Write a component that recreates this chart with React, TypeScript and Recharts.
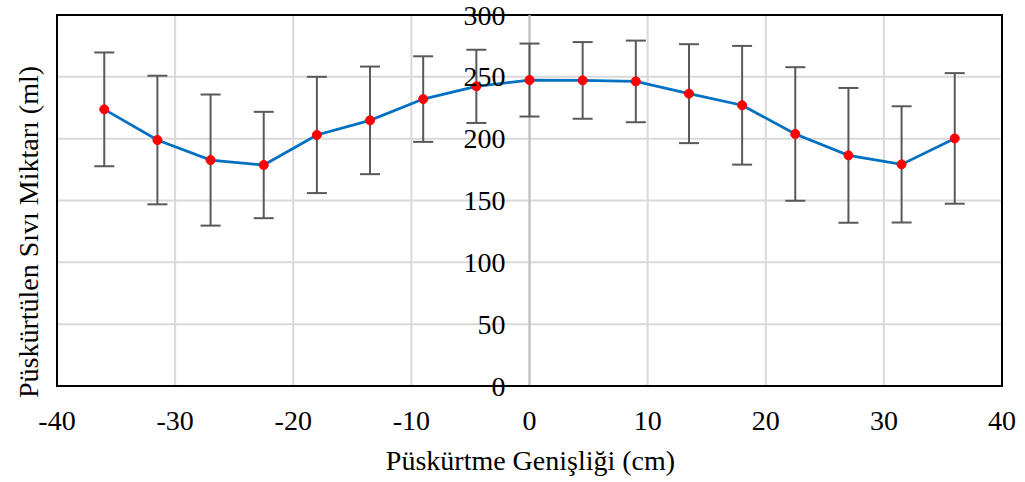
import {
  CartesianGrid,
  ErrorBar,
  Label,
  Line,
  LineChart,
  ReferenceArea,
  ReferenceLine,
  XAxis,
  YAxis,
} from 'recharts';

const positions = [-36, -31.5, -27, -22.5, -18, -13.5, -9, -4.5, 0, 4.5, 9, 13.5, 18, 22.5, 27, 31.5, 36];
const volumes = [223.7, 198.9, 182.7, 178.7, 203, 214.8, 232, 242.3, 247.4, 247.1, 246.3, 236.4, 227, 203.8, 186.5, 179.2, 200.2];
const errors = [46, 52, 53, 43, 47, 43.5, 34.6, 29.6, 29.5, 31, 33, 40, 48, 54, 54.5, 47, 52.8];
const xTicks = [-40, -30, -20, -10, 0, 10, 20, 30, 40];
const yTicks = [0, 50, 100, 150, 200, 250, 300];

const data = positions.map((x, i) => ({ x, y: volumes[i], err: errors[i] }));

const W = 1025;
const H = 482;
const LEFT = 56;
const RIGHT = 23;
const CENTER_X = LEFT + 1 + (W - LEFT - 1 - RIGHT) / 2;
const FONT = "'Liberation Serif', 'Times New Roman', serif";
const FS = 28;

const YTick = ({ y, payload }: any) => (
  <text x={CENTER_X - 24} y={y} dy='0.34em' textAnchor='end' fontSize={FS} fontFamily={FONT} fill='#000'>
    {payload.value}
  </text>
);

// rotated y title, placed left of the frame
const YTitle = () => {
  const cx = 28;
  const cy = 232;
  return (
    <text
      x={cx}
      y={cy}
      dy='0.34em'
      textAnchor='middle'
      fontSize={FS}
      fontFamily={FONT}
      fill='#000'
      transform={`rotate(-90, ${cx}, ${cy})`}
    >
      Püskürtülen Sıvı Miktarı (ml)
    </text>
  );
};

const XTitle = ({ viewBox }: any) => (
  <text x={viewBox.x + viewBox.width / 2 + 1} y={460} dy='0.34em' textAnchor='middle' fontSize={FS} fontFamily={FONT} fill='#000'>
    Püskürtme Genişliği (cm)
  </text>
);

export default function App() {
  return (
    <div style={{ position: 'absolute', left: 0, top: 0, width: W, height: H, background: '#fff' }}>
      <LineChart width={W} height={H} data={data} margin={{ top: 15, right: RIGHT, left: LEFT, bottom: 0 }}>
        <CartesianGrid stroke='#d9d9d9' strokeWidth={2} />
        <XAxis
          type='number'
          dataKey='x'
          domain={[-40, 40]}
          ticks={xTicks}
          height={96}
          axisLine={{ stroke: '#000', strokeWidth: 2 }}
          tickLine={false}
          tickSize={0}
          tickMargin={24}
          tick={{ fontSize: FS, fontFamily: FONT, fill: '#000' }}
        >
          <Label content={<XTitle />} />
        </XAxis>
        <YAxis
          type='number'
          domain={[0, 300]}
          ticks={yTicks}
          width={1}
          axisLine={false}
          tickLine={false}
          tick={<YTick />}
        >
          <Label content={<YTitle />} />
        </YAxis>
        <ReferenceLine x={0} stroke='#bfbfbf' strokeWidth={2} />
        <ReferenceArea x1={-40} x2={40} y1={0} y2={300} fill='none' fillOpacity={0} stroke='#000' strokeWidth={2} />
        <Line
          type='linear'
          dataKey='y'
          stroke='#0070C0'
          strokeWidth={2.75}
          dot={{ r: 4.5, fill: '#FF0000', stroke: '#FF0000', strokeWidth: 1 }}
          activeDot={false}
          isAnimationActive={false}
        >
          <ErrorBar dataKey='err' direction='y' width={10} stroke='#595959' strokeWidth={2} />
        </Line>
      </LineChart>
    </div>
  );
}
